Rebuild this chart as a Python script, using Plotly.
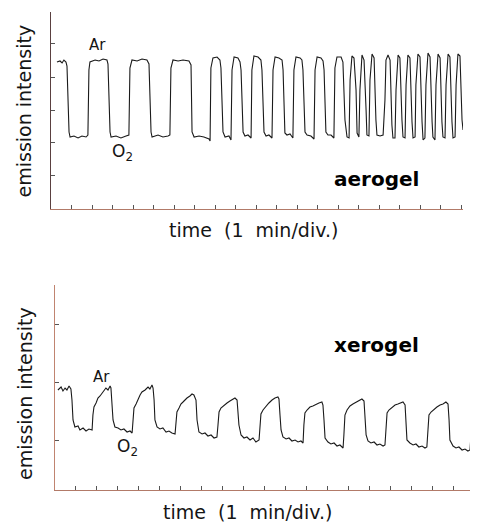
import plotly.graph_objects as go

# page body has an 8 px margin: the figure is placed at (8, 8)
OFF = 8
W, H = 478 - OFF, 523 - OFF

# ---- aerogel trace (time in min, intensity in a.u.) ----
aero_t = [0.29, 0.44, 0.54, 0.63, 0.73, 0.78, 0.88, 0.93, 1.12, 1.32, 1.51, 1.71, 1.80,
          1.85, 1.90, 2.15, 2.34, 2.54, 2.73, 2.78, 2.88, 2.93, 3.17, 3.41, 3.66, 3.80,
          3.85, 3.95, 4.20, 4.44, 4.68, 4.78, 4.88, 4.93, 5.22, 5.46, 5.71, 5.80,
          5.85, 5.95, 6.20, 6.44, 6.73, 6.83, 6.88, 6.98, 7.22, 7.46, 7.71, 7.76,
          7.80, 7.90, 8.10, 8.24, 8.29, 8.39, 8.49, 8.68, 8.78,
          8.83, 8.93, 9.12, 9.22, 9.27, 9.37, 9.46, 9.61, 9.76,
          9.80, 9.90, 10.10, 10.24, 10.29, 10.39, 10.49, 10.63, 10.78,
          10.83, 10.93, 11.12, 11.27, 11.32, 11.41, 11.51, 11.66, 11.80,
          11.85, 11.95, 12.15, 12.24, 12.29, 12.39, 12.49, 12.68, 12.83,
          12.88, 12.98, 13.17, 13.27, 13.32, 13.41, 13.51, 13.66, 13.80,
          13.85, 13.95, 14.15, 14.24, 14.34, 14.44, 14.54,
          14.59, 14.68, 14.78, 14.88, 14.93, 15.02,
          15.07, 15.17, 15.27, 15.37, 15.41, 15.51,
          15.56, 15.66, 15.76, 15.85, 15.90, 16.05, 16.20,
          16.29, 16.34, 16.44, 16.54, 16.63, 16.68, 16.78,
          16.83, 16.93, 17.02, 17.12, 17.17, 17.27,
          17.32, 17.41, 17.51, 17.61, 17.66, 17.76,
          17.80, 17.90, 18.00, 18.10, 18.15, 18.24,
          18.29, 18.39, 18.49, 18.59, 18.63, 18.73,
          18.78, 18.88, 18.98, 19.07, 19.12, 19.22,
          19.27, 19.37, 19.46, 19.56, 19.61, 19.71,
          19.76, 19.85, 19.95, 20.05, 20.10]
aero_i = [147, 148, 146, 149, 147, 143, 77, 72, 73, 71, 73, 72, 74,
          139, 147, 149, 148, 150, 149, 145, 77, 72, 73, 71, 73, 74,
          141, 149, 148, 150, 149, 145, 77, 72, 74, 72, 73, 74,
          141, 149, 148, 149, 148, 144, 77, 72, 73, 72, 70, 68,
          141, 151, 152, 149, 141, 77, 72, 73, 69,
          139, 152, 151, 147, 139, 77, 73, 74, 71,
          139, 153, 152, 149, 139, 77, 73, 74, 71,
          139, 152, 151, 149, 139, 76, 74, 75, 71,
          139, 152, 151, 149, 139, 77, 74, 73, 70,
          139, 152, 151, 148, 139, 77, 74, 74, 71,
          141, 152, 152, 147, 89, 72, 71,
          129, 153, 151, 119, 76, 72,
          119, 154, 149, 99, 74, 73,
          129, 155, 151, 89, 74, 73, 74,
          109, 149, 154, 149, 84, 71, 71,
          119, 154, 151, 89, 72, 71,
          124, 154, 151, 87, 71, 72,
          124, 155, 152, 87, 69, 71,
          124, 156, 152, 87, 72, 69,
          124, 155, 151, 87, 72, 71,
          124, 155, 152, 87, 71, 72,
          124, 155, 153, 89, 79]

# ---- xerogel trace ----
xero_t = [0.14, 0.29, 0.38, 0.48, 0.57, 0.67, 0.76, 0.81, 0.86, 0.95, 1.10, 1.19, 1.34, 1.48, 1.62, 1.77,
          1.81, 1.86, 1.96, 2.05, 2.15, 2.24, 2.34, 2.43, 2.53, 2.63, 2.67,
          2.72, 2.77, 2.86, 3.01, 3.15, 3.29, 3.44, 3.58, 3.68,
          3.72, 3.77, 3.87, 3.96, 4.06, 4.15, 4.30, 4.44, 4.53, 4.63, 4.68,
          4.73, 4.77, 4.87, 5.01, 5.15, 5.30, 5.44, 5.58, 5.73,
          5.78, 5.82, 5.92, 6.01, 6.11, 6.20, 6.30, 6.44, 6.54, 6.63,
          6.73, 6.78, 6.87, 7.02, 7.16, 7.30, 7.45, 7.59, 7.73,
          7.78, 7.83, 7.92, 8.07, 8.21, 8.35, 8.50, 8.59, 8.69,
          8.73, 8.78, 8.88, 9.02, 9.16, 9.31, 9.45, 9.59, 9.74,
          9.78, 9.83, 9.93, 10.07, 10.21, 10.36, 10.50, 10.64, 10.69,
          10.74, 10.79, 10.88, 11.03, 11.17, 11.31, 11.46, 11.60, 11.74, 11.84,
          11.88, 11.93, 12.03, 12.17, 12.31, 12.46, 12.60, 12.74, 12.79,
          12.84, 12.89, 13.03, 13.17, 13.32, 13.46, 13.60, 13.75,
          13.79, 13.84, 13.94, 14.08, 14.22, 14.37, 14.51, 14.65, 14.75,
          14.80, 14.85, 14.94, 15.08, 15.23, 15.37, 15.51, 15.66, 15.75,
          15.80, 15.85, 15.94, 16.09, 16.23, 16.37, 16.51, 16.61, 16.71,
          16.75, 16.80, 16.94, 17.09, 17.23, 17.37, 17.52, 17.66, 17.75,
          17.80, 17.85, 17.95, 18.09, 18.23, 18.38, 18.52, 18.66, 18.76,
          18.81, 18.85, 19.00, 19.14, 19.28, 19.43, 19.57, 19.71, 19.81,
          19.86, 19.90, 20.00, 20.09, 20.19]
xero_i = [100, 103, 99, 102, 100, 104, 101, 90, 70, 63, 64, 60, 62, 59, 61, 60,
          75, 83, 87, 92, 94, 97, 99, 102, 100, 104, 102,
          90, 70, 63, 62, 60, 61, 58, 59, 57,
          70, 82, 86, 91, 95, 98, 100, 103, 101, 105, 102,
          90, 70, 63, 61, 62, 58, 59, 57, 56,
          70, 78, 82, 86, 88, 90, 92, 94, 96, 95,
          90, 70, 58, 56, 57, 54, 55, 52, 53,
          65, 78, 82, 85, 87, 89, 91, 92, 90,
          80, 65, 55, 52, 53, 50, 52, 48, 50,
          60, 76, 80, 84, 87, 90, 92, 93, 91,
          75, 60, 53, 51, 52, 49, 50, 48, 49, 47,
          65, 77, 80, 83, 84, 86, 87, 88, 85,
          70, 52, 48, 46, 47, 44, 45, 42,
          55, 75, 80, 84, 86, 88, 90, 91, 89,
          70, 55, 49, 47, 48, 45, 46, 44, 45,
          65, 77, 80, 83, 85, 86, 87, 88, 85,
          65, 50, 47, 45, 46, 43, 44, 42, 43,
          60, 75, 78, 81, 83, 85, 86, 88, 86,
          70, 50, 44, 42, 43, 40, 41, 39, 40,
          55, 70, 76, 80, 82]

time_ticks = list(range(1, 21))
aero_int_ticks = [34, 67, 99, 132, 166]
xero_int_ticks = [50, 108, 166]


def px(x):
    """reference-image pixel x -> paper fraction"""
    return (x - OFF) / W


def py(y):
    """reference-image pixel y -> paper fraction"""
    return 1 - (y - OFF) / H


fig = go.Figure()
line_style = dict(color="#1a1a1a", width=1.1)
fig.add_trace(go.Scatter(x=aero_t, y=aero_i, mode="lines", line=line_style,
                         xaxis="x", yaxis="y", showlegend=False, hoverinfo="skip"))
fig.add_trace(go.Scatter(x=xero_t, y=xero_i, mode="lines", line=line_style,
                         xaxis="x2", yaxis="y2", showlegend=False, hoverinfo="skip"))

common_x = dict(showgrid=False, zeroline=False, showline=True, linewidth=1,
                ticks="inside", ticklen=4, tickwidth=1, tickcolor="#555555",
                showticklabels=False, tickvals=time_ticks, fixedrange=True)
common_y = dict(showgrid=False, zeroline=False, showline=True, linewidth=1,
                ticks="inside", ticklen=4, tickwidth=1, tickcolor="#555555",
                showticklabels=False, fixedrange=True)

fig.update_layout(
    width=W, height=H,
    margin=dict(l=0, r=0, t=0, b=0),
    paper_bgcolor="white", plot_bgcolor="white",
    xaxis=dict(domain=[px(51), px(463)], range=[0, (463 - 51) / 20.5],
               anchor="y", linecolor="#b27a68", **common_x),
    yaxis=dict(domain=[py(209), py(12)], range=[0, 197], anchor="x",
               linecolor="#5a4040", tickvals=aero_int_ticks, **common_y),
    xaxis2=dict(domain=[px(55), 1.0], range=[0, (478 - 55) / 20.95],
                anchor="y2", linecolor="#b27a68", **common_x),
    yaxis2=dict(domain=[py(490), py(285)], range=[0, 205], anchor="x2",
                linecolor="#c08470", tickvals=xero_int_ticks, **common_y),
)

font_main = "DejaVu Sans"
txt = "#151515"
ann = []
# y-axis titles
ann.append(dict(x=px(23.5), y=py(111), text="emission intensity", textangle=-90,
                font=dict(family=font_main, size=19, color=txt)))
ann.append(dict(x=px(25), y=py(394), text="emission intensity", textangle=-90,
                font=dict(family=font_main, size=19, color=txt)))
# x-axis titles
ann.append(dict(x=px(253), y=py(230), text="time\u00a0\u00a0(1\u00a0\u00a0min/div.)",
                font=dict(family=font_main, size=19, color=txt)))
ann.append(dict(x=px(248), y=py(512), text="time\u00a0\u00a0(1\u00a0\u00a0min/div.)",
                font=dict(family=font_main, size=19, color=txt)))
# panel labels
ann.append(dict(x=px(376), y=py(179), text="<b>aerogel</b>",
                font=dict(family=font_main, size=20, color="#000")))
ann.append(dict(x=px(376), y=py(345), text="<b>xerogel</b>",
                font=dict(family=font_main, size=20, color="#000")))
# gas labels
ann.append(dict(x=px(97), y=py(45), text="Ar", font=dict(family=font_main, size=15, color=txt)))
ann.append(dict(x=px(122), y=py(152), text="O<sub>2</sub>",
                font=dict(family=font_main, size=17, color=txt)))
ann.append(dict(x=px(101), y=py(377), text="Ar", font=dict(family=font_main, size=15, color=txt)))
ann.append(dict(x=px(128), y=py(447), text="O<sub>2</sub>",
                font=dict(family=font_main, size=17, color=txt)))

for a in ann:
    a.update(xref="paper", yref="paper", showarrow=False, xanchor="center", yanchor="middle")
fig.update_layout(annotations=ann)

fig.write_html("out.html")
